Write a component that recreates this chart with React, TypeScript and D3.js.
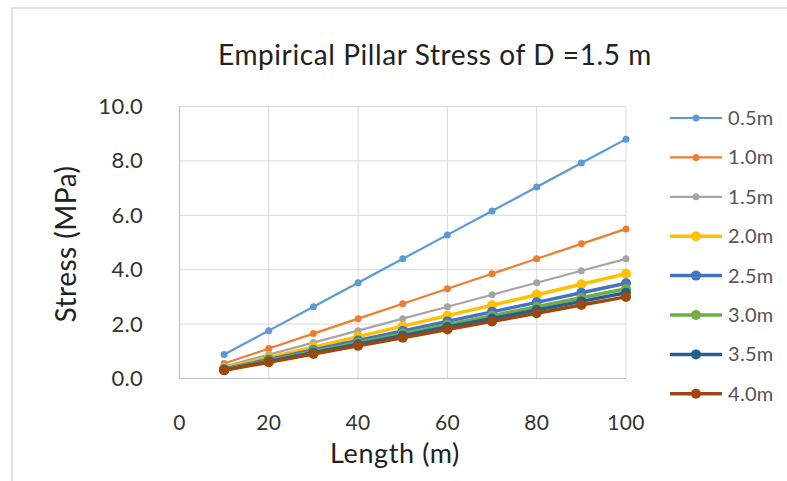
import React from "react";
import * as d3 from "d3";

const lengths = [10, 20, 30, 40, 50, 60, 70, 80, 90, 100];
const seriesNames = ["0.5m", "1.0m", "1.5m", "2.0m", "2.5m", "3.0m", "3.5m", "4.0m"];
const s05 = [0.88, 1.76, 2.64, 3.52, 4.4, 5.28, 6.16, 7.04, 7.92, 8.8];
const s10 = [0.55, 1.1, 1.65, 2.2, 2.75, 3.3, 3.85, 4.4, 4.95, 5.5];
const s15 = [0.44, 0.88, 1.32, 1.76, 2.2, 2.64, 3.08, 3.52, 3.96, 4.4];
const s20 = [0.385, 0.77, 1.155, 1.54, 1.925, 2.31, 2.695, 3.08, 3.465, 3.85];
const s25 = [0.35, 0.7, 1.05, 1.4, 1.75, 2.1, 2.45, 2.8, 3.15, 3.5];
const s30 = [0.33, 0.66, 0.99, 1.32, 1.65, 1.98, 2.31, 2.64, 2.97, 3.3];
const s35 = [0.315, 0.63, 0.945, 1.26, 1.575, 1.89, 2.205, 2.52, 2.835, 3.15];
const s40 = [0.3, 0.6, 0.9, 1.2, 1.5, 1.8, 2.1, 2.4, 2.7, 3.0];
const seriesValues = [s05, s10, s15, s20, s25, s30, s35, s40];
const colors = ["#5B9BD5", "#ED7D31", "#A5A5A5", "#FFC000", "#4472C4", "#70AD47", "#255E91", "#9E480E"];
const xTicks = [0, 20, 40, 60, 80, 100];
const yTicks = [0, 2, 4, 6, 8, 10];

const FONT = "Lato, 'Open Sans', sans-serif";

export default function App() {
  const x = d3.scaleLinear().domain([0, 100]).range([179.5, 626]);
  const y = d3.scaleLinear().domain([0, 10]).range([378.5, 106.5]);
  const line = d3
    .line<[number, number]>()
    .x((d) => x(d[0]))
    .y((d) => y(d[1]));

  const thick = (i: number) => i >= 3;

  return (
    <svg
      width={787}
      height={481}
      style={{ position: "absolute", left: 0, top: 0, background: "#fff" }}
    >
      <rect x={12} y={8} width={790} height={490} fill="#fff" stroke="#d9d9d9" strokeWidth={1.5} />
      <text x={435} y={65} textAnchor="middle" fontFamily={FONT} fontSize={28} letterSpacing={0.6} fill="#222">
        Empirical Pillar Stress of D =1.5 m
      </text>
      {/* grid */}
      {yTicks.map((t) => (
        <line key={"gy" + t} x1={x(0)} x2={x(100)} y1={y(t)} y2={y(t)} stroke="#d9d9d9" strokeWidth={1} />
      ))}
      {xTicks.map((t) => (
        <line key={"gx" + t} x1={x(t)} x2={x(t)} y1={y(0)} y2={y(10)} stroke="#d9d9d9" strokeWidth={1} />
      ))}
      <line x1={x(0)} x2={x(0)} y1={y(0)} y2={y(10)} stroke="#bfbfbf" strokeWidth={1.2} />
      <line x1={x(0)} x2={x(100)} y1={y(0)} y2={y(0)} stroke="#bfbfbf" strokeWidth={1.2} />
      {/* tick labels */}
      {yTicks.map((t) => (
        <text key={"ty" + t} x={143} y={y(t) + 7.5} textAnchor="end" fontFamily={FONT} fontSize={22} letterSpacing={0.3} fill="#333">
          {t.toFixed(1)}
        </text>
      ))}
      {xTicks.map((t) => (
        <text key={"tx" + t} x={x(t)} y={430} textAnchor="middle" fontFamily={FONT} fontSize={21} letterSpacing={0.3} fill="#333">
          {t}
        </text>
      ))}
      <text x={395} y={463} textAnchor="middle" fontFamily={FONT} fontSize={27} letterSpacing={0.6} fill="#222">
        Length (m)
      </text>
      <text
        transform={`translate(76,244) rotate(-90)`}
        textAnchor="middle"
        fontFamily={FONT}
        fontSize={28}
        letterSpacing={0.5}
        fill="#222"
      >
        Stress (MPa)
      </text>
      {/* series */}
      {seriesValues.map((vals, i) => {
        const pts: [number, number][] = lengths.map((l, j) => [l, vals[j]]);
        return (
          <g key={"s" + i}>
            <path d={line(pts) || ""} fill="none" stroke={colors[i]} strokeWidth={thick(i) ? 3.5 : 2.2} />
            {pts.map((p, j) => (
              <circle key={j} cx={x(p[0])} cy={y(p[1])} r={thick(i) ? 5 : 3.5} fill={colors[i]} />
            ))}
          </g>
        );
      })}
      {/* legend */}
      {seriesNames.map((n, i) => {
        const cy = 118 + i * 39.4;
        return (
          <g key={"l" + i}>
            <line x1={670} x2={722} y1={cy} y2={cy} stroke={colors[i]} strokeWidth={thick(i) ? 3.5 : 2.2} />
            <circle cx={696} cy={cy} r={thick(i) ? 5 : 3.5} fill={colors[i]} />
            <text x={728} y={cy + 7} fontFamily={FONT} fontSize={20} letterSpacing={0.3} fill="#555">
              {n}
            </text>
          </g>
        );
      })}
    </svg>
  );
}
